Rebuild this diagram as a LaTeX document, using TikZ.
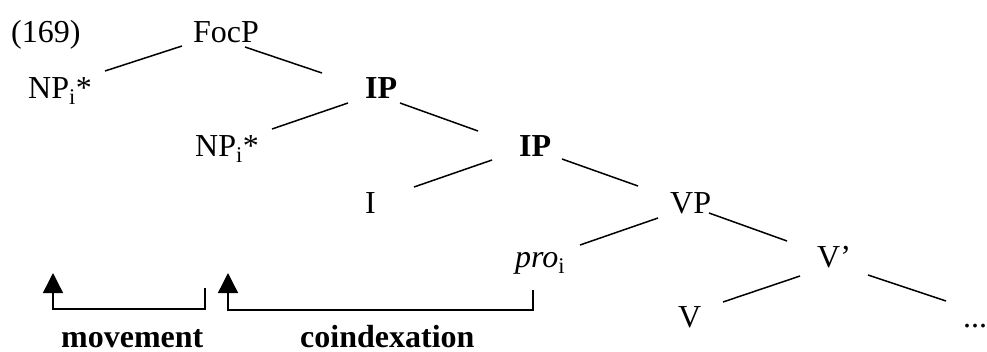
\documentclass[tikz,border=0pt]{standalone}
\usepackage{fontspec}
\setmainfont{Liberation Serif}
\usetikzlibrary{arrows.meta,calc}
\begin{document}
\begin{tikzpicture}[x=1pt,y=-1pt,
  lab/.style={anchor=base west,inner sep=0pt,font=\fontsize{32}{38}\selectfont},
  edge/.style={line width=1.5pt},
  bracket/.style={line width=1.4pt},
  uparrow/.style={bracket,-{Triangle[width=20pt,length=20pt]}}]
\useasboundingbox (0,0) rectangle (987,351);
% nodes
\node[lab] (ex)   at (11,42)  {(169)};
\node[lab] (FocP) at (193,42) {FocP};
\node[lab] (NPa)  at (28,98)  {NP\textsubscript{i}*};
\node[lab] (IPa)  at (365,98) {\textbf{IP}};
\node[lab] (NPb)  at (195,156) {NP\textsubscript{i}*};
\node[lab] (IPb)  at (519,156) {\textbf{IP}};
\node[lab] (I)    at (365,213) {I};
\node[lab] (VP)   at (670,213) {VP};
\node[lab] (pro)  at (515,267) {\textit{pro}\textsubscript{i}};
\node[lab] (Vbar) at (817,267) {V’};
\node[lab] (V)    at (678,327) {V};
\node[lab] (dots) at (963,327) {...};
\node[lab] (mov)  at (61,347)  {\textbf{movement}};
\node[lab] (coi)  at (300,347) {\textbf{coindexation}};
% tree edges
\draw[edge] ($(FocP.base west)+(-11,4)$) -- ($(NPa.base west)+(77,-27)$);
\draw[edge] ($(FocP.base west)+(52,5)$) -- ($(IPa.base west)+(-43,-25)$);
\draw[edge] ($(IPa.base west)+(-17,5)$) -- ($(NPb.base west)+(77,-27)$);
\draw[edge] ($(IPa.base west)+(35,5)$) -- ($(IPb.base west)+(-41,-25)$);
\draw[edge] ($(IPb.base west)+(-27,4)$) -- ($(I.base west)+(49,-26)$);
\draw[edge] ($(IPb.base west)+(43,3)$) -- ($(VP.base west)+(-32,-27)$);
\draw[edge] ($(VP.base west)+(-12,5)$) -- ($(pro.base west)+(65,-22)$);
\draw[edge] ($(VP.base west)+(39,0)$) -- ($(Vbar.base west)+(-30,-26)$);
\draw[edge] ($(Vbar.base west)+(-17,9)$) -- ($(V.base west)+(45,-25)$);
\draw[edge] ($(Vbar.base west)+(51,8)$) -- ($(dots.base west)+(-17,-26)$);
% brackets
\coordinate (mvFrom) at (205,288);
\coordinate (mvTo)   at (53,273);
\coordinate (coFrom) at (533,290);
\coordinate (coTo)   at (228,273);
\draw[uparrow] (mvFrom) -- ++(0,21) -| (mvTo);
\draw[uparrow] (coFrom) -- ++(0,20) -| (coTo);
\end{tikzpicture}
\end{document}
